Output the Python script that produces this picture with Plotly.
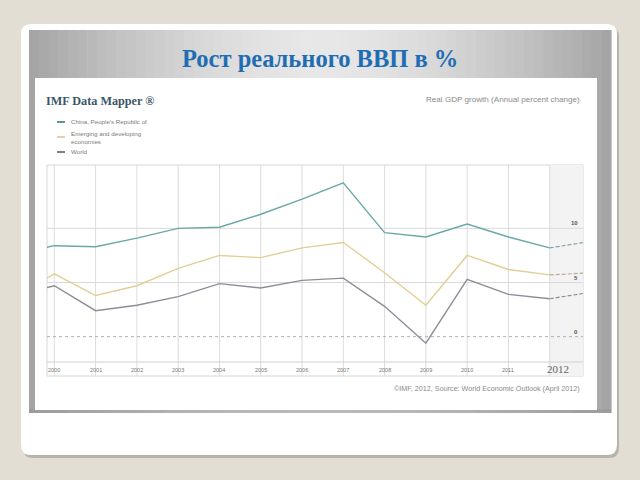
import plotly.graph_objects as go

# ---------------- data ----------------
years = [1999, 2000, 2001, 2002, 2003, 2004, 2005, 2006, 2007, 2008, 2009, 2010, 2011, 2012]
china = [7.6, 8.4, 8.3, 9.1, 10.0, 10.1, 11.3, 12.7, 14.2, 9.6, 9.2, 10.4, 9.2, 8.2]
emerging = [3.6, 5.8, 3.8, 4.7, 6.3, 7.5, 7.3, 8.2, 8.7, 5.9, 2.9, 7.5, 6.2, 5.7]
world = [3.8, 4.7, 2.4, 2.9, 3.7, 4.9, 4.5, 5.2, 5.4, 2.8, -0.6, 5.3, 3.9, 3.5]
proj_years = [2012, 2013]
china_proj = [8.2, 8.8]
emerging_proj = [5.7, 5.9]
world_proj = [3.5, 4.1]
tick_years = [2000, 2001, 2002, 2003, 2004, 2005, 2006, 2007, 2008, 2009, 2010, 2011, 2012]
tick_labels = [str(y) for y in tick_years]
y_ticks = [10, 5, 0]
legend_names = ["China, People's Republic of", "Emerging and developing<br>economies", "World"]

# ---------------- geometry helpers ----------------
L, R, T, B = 47, 583, 165, 362
def px(x):
    return (x - L) / (R - L)
def py(y):
    return (B - y) / (B - T)

shapes = []
def rect(x0, y0, x1, y1, fill, line=None, lw=0, layer="below"):
    shapes.append(dict(type="rect", xref="paper", yref="paper",
                       x0=px(x0), x1=px(x1), y0=py(y1), y1=py(y0),
                       fillcolor=fill, line=dict(color=line or fill, width=lw), layer=layer))

def rounded(x0, y0, x1, y1, r, fill, line=None, lw=0):
    X0, X1 = px(x0), px(x1)
    Y0, Y1 = py(y1), py(y0)
    rx = r / (R - L)
    ry = r / (B - T)
    p = (f"M {X0+rx},{Y0} L {X1-rx},{Y0} Q {X1},{Y0} {X1},{Y0+ry} "
         f"L {X1},{Y1-ry} Q {X1},{Y1} {X1-rx},{Y1} L {X0+rx},{Y1} "
         f"Q {X0},{Y1} {X0},{Y1-ry} L {X0},{Y0+ry} Q {X0},{Y0} {X0+rx},{Y0} Z")
    shapes.append(dict(type="path", xref="paper", yref="paper", path=p,
                       fillcolor=fill, line=dict(color=line or fill, width=lw), layer="below"))

# slide card shadow + card
rounded(23, 27, 619, 458, 10, "#b9b4aa")
rounded(21, 24, 617, 455, 10, "#ffffff")

# gray gradient panel (horizontal gradient via strips)
x0p, x1p = 29, 611
n = 60
w = (x1p - x0p) / n
for i in range(n):
    t = (i + 0.5) / n
    d = abs(t - 0.5) * 2
    v = int(232 - 68 * d ** 1.6)
    c = f"rgb({v},{v},{v})"
    rect(x0p + i * w, 30, x0p + (i + 1) * w + 0.6, 413, c)
# bottom darker rim of panel
rect(29, 409, 611, 413, "rgba(150,150,150,0.55)")
# white chart image
rect(35, 78, 597, 410, "#ffffff")

# plot frame incl. label band
rect(L, T, R, 376, "rgba(0,0,0,0)", "#d6d6d6", 1)
# projection shading
shapes.append(dict(type="rect", xref="x", yref="paper", x0=2012, x1=2012.806, y0=py(376), y1=1,
                   fillcolor="#f3f3f3", line=dict(width=0), layer="below"))
# vertical gridlines
for yr in tick_years:
    shapes.append(dict(type="line", xref="x", yref="paper", x0=yr, x1=yr, y0=py(376), y1=1,
                       line=dict(color="#dcdcdc", width=1), layer="below"))
# x axis line
shapes.append(dict(type="line", xref="paper", yref="paper", x0=0, x1=1, y0=0, y1=0,
                   line=dict(color="#d0d0d0", width=1), layer="below"))
# horizontal gridlines
for v in y_ticks:
    shapes.append(dict(type="line", xref="paper", yref="y", x0=0, x1=1, y0=v, y1=v,
                       line=dict(color="#b0b0b0" if v == 0 else "#dadada", width=1,
                                 dash="dot" if v == 0 else "solid"), layer="below"))

# legend marker dashes
leg_cols = ["#2f6f73", "#d8c48a", "#555560"]
leg_y = [122, 137, 152]
for c, yy in zip(leg_cols, leg_y):
    shapes.append(dict(type="line", xref="paper", yref="paper", x0=px(57), x1=px(65),
                       y0=py(yy), y1=py(yy), line=dict(color=c, width=1.5), layer="above"))

fig = go.Figure()
cols = ["#6aa8a8", "#e2cf95", "#8e8c98"]
dcols = ["#7fa6a8", "#b8ad8e", "#8e8c98"]
for ser, proj, c, dc in zip([china, emerging, world], [china_proj, emerging_proj, world_proj], cols, dcols):
    fig.add_trace(go.Scatter(x=years, y=ser, mode="lines", line=dict(color=c, width=1.4),
                             showlegend=False, hoverinfo="skip"))
    fig.add_trace(go.Scatter(x=proj_years, y=proj, mode="lines",
                             line=dict(color=dc, width=1.2, dash="4px,2px"),
                             showlegend=False, hoverinfo="skip"))

ann = []
def text(x, y, s, size, color, family="Liberation Sans", xanchor="left", yanchor="middle", bold=False):
    ann.append(dict(xref="paper", yref="paper", x=px(x), y=py(y), text=(f"<b>{s}</b>" if bold else s),
                    showarrow=False, xanchor=xanchor, yanchor=yanchor, align="left",
                    font=dict(size=size, color=color, family=family)))

text(320, 58, "Рост реального ВВП в %", 24.5, "#1f6db3", "Liberation Serif", "center", bold=True)
text(44, 101, "IMF Data Mapper ®", 12.2, "#3b5668", "Liberation Serif", bold=True)
text(69, 122, legend_names[0], 6.2, "#7a7a7a")
text(69, 137, legend_names[1], 6.2, "#7a7a7a")
text(69, 152, legend_names[2], 6.2, "#7a7a7a")
text(582, 99, "Real GDP growth (Annual percent change)", 8.1, "#8a8a8a", xanchor="right")
text(582, 388, "©IMF, 2012, Source: World Economic Outlook (April 2012)", 7.2, "#8a8a8a", xanchor="right")

for yr, lab in zip(tick_years, tick_labels):
    if lab == "2012":
        ann.append(dict(xref="x", yref="paper", x=yr + 0.2, y=py(369), text=lab, showarrow=False,
                        xanchor="center", yanchor="middle",
                        font=dict(size=11, color="#666666", family="Liberation Serif")))
    else:
        ann.append(dict(xref="x", yref="paper", x=yr, y=py(370), text=lab, showarrow=False,
                        xanchor="center", yanchor="middle",
                        font=dict(size=5.5, color="#777777", family="Liberation Sans")))
for v in y_ticks:
    ann.append(dict(xref="paper", yref="y", x=px(580), y=v, yshift=5, text=f"<b>{v}</b>", showarrow=False,
                    xanchor="right", yanchor="middle",
                    font=dict(size=6, color="#555555", family="Liberation Sans")))

fig.update_layout(
    width=640, height=480,
    margin=dict(l=L, r=640 - R, t=T, b=480 - B),
    paper_bgcolor="#e3ded3", plot_bgcolor="rgba(0,0,0,0)",
    xaxis=dict(range=[1999.823, 2012.806], showgrid=False, zeroline=False, showticklabels=False,
               showline=False, fixedrange=True),
    yaxis=dict(range=[-2.34, 15.85], showgrid=False, zeroline=False, showticklabels=False,
               showline=False, fixedrange=True),
    shapes=shapes, annotations=ann, showlegend=False,
)
fig.write_html("out.html")
